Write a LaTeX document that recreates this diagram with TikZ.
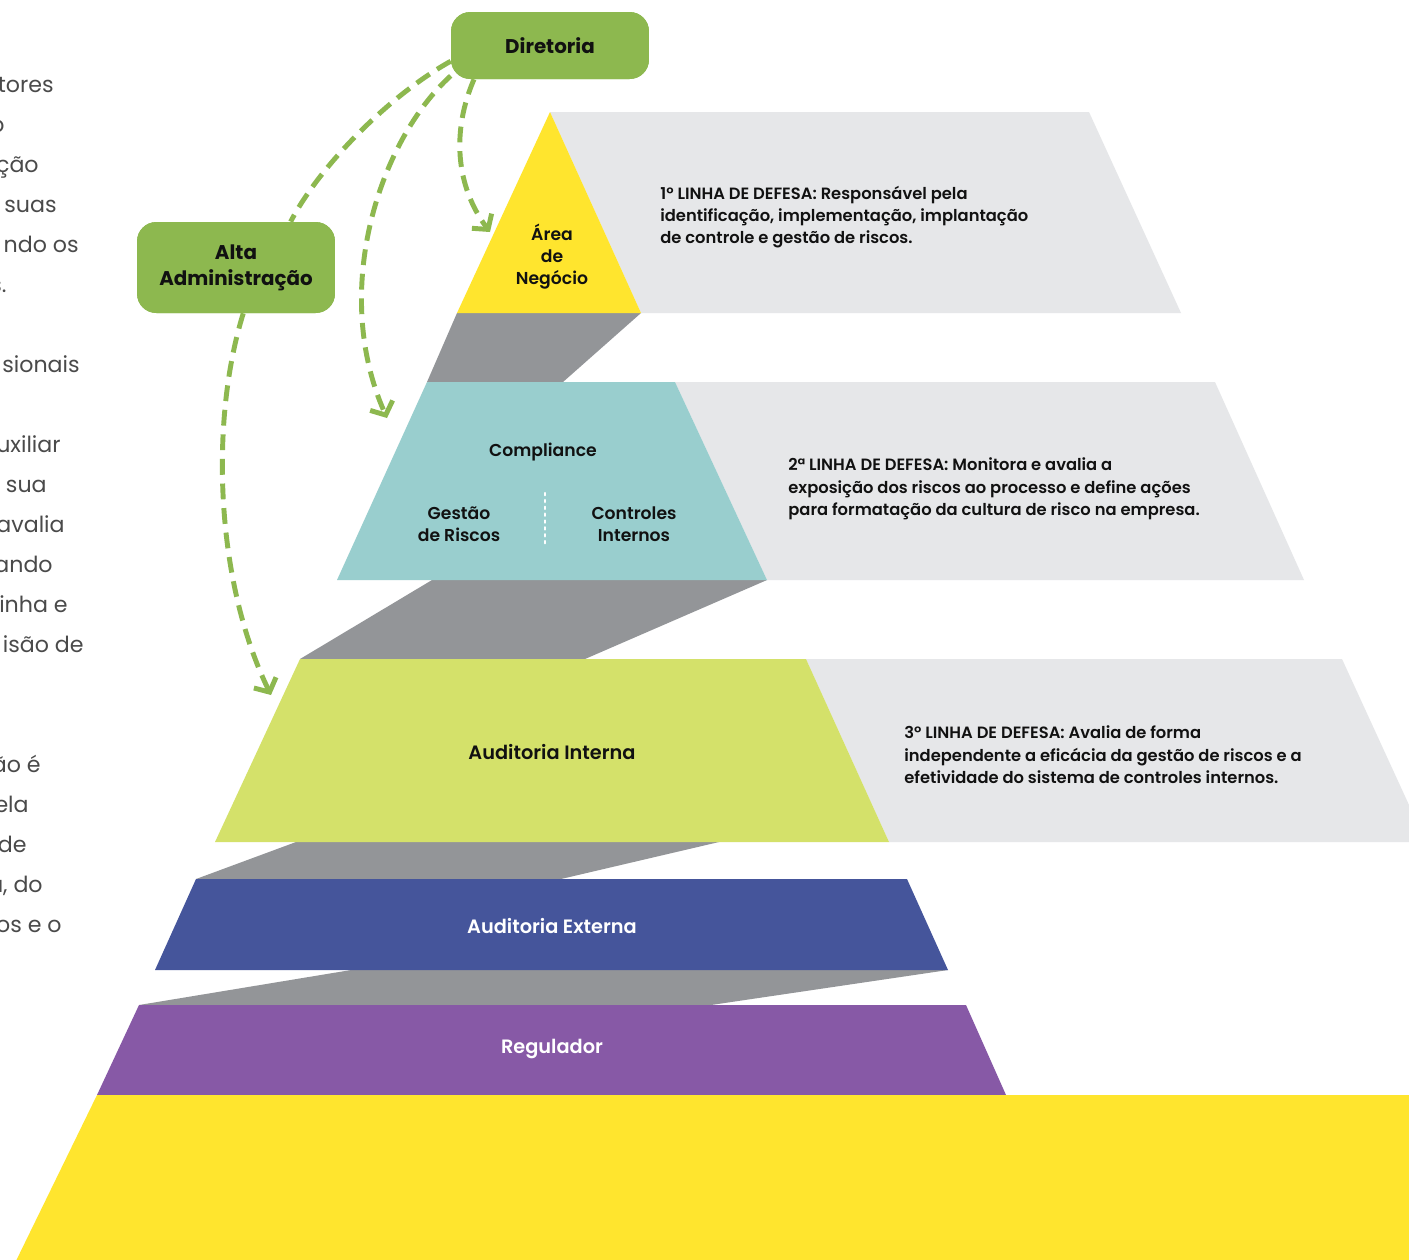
\documentclass[tikz,border=0pt]{standalone}
\usepackage{fontspec}
\setmainfont{Poppins}
\newfontfamily\pmed{Poppins Medium}
\newfontfamily\psemi{Poppins SemiBold}
\usetikzlibrary{arrows.meta}
\definecolor{grn}{HTML}{8DB84F}
\definecolor{yel}{HTML}{FFE52E}
\definecolor{dgrey}{HTML}{939598}
\definecolor{lgrey}{HTML}{E6E7E9}
\definecolor{teal2}{HTML}{99CECE}
\definecolor{lime}{HTML}{D4E16A}
\definecolor{blu}{HTML}{45559B}
\definecolor{purp}{HTML}{8759A6}
\definecolor{ink}{HTML}{111111}
\definecolor{sidetxt}{HTML}{4A4A4A}
\begin{document}
\begin{tikzpicture}[x=0.02cm,y=-0.02cm,
  greenbox/.style={fill=grn, rounded corners=11pt, inner sep=0pt, minimum width=3.96cm, align=center, text=ink, font=\bfseries\fontsize{11.3}{14.7}\selectfont},
  dashlink/.style={draw=grn, line width=2.8pt, dash pattern=on 9pt off 5pt},
  tipped/.style={dashlink, -{Straight Barb[length=6pt, width=14pt]}},
  tierlabel/.style={align=center, text=ink, font=\psemi\fontsize{9.8}{12.5}\selectfont, inner sep=0pt},
  bigtier/.style={align=center, font=\psemi\fontsize{11}{13}\selectfont, inner sep=0pt},
  desc/.style={align=left, anchor=west, text=ink, font=\psemi\fontsize{9.3}{12.75}\selectfont, inner sep=0pt},
  side/.style={anchor=mid east, text=sidetxt, font=\fontsize{12.6}{15}\selectfont, inner sep=0pt}]
\useasboundingbox (0,0) rectangle (1409,1259);
\fill[white] (0,0) rectangle (1409,1259);

% light grey panels
\fill[lgrey] (550,112) -- (1089,112) -- (1181,313) -- (641,313) -- cycle;
\fill[lgrey] (675,382) -- (1215,382) -- (1304,580) -- (767,580) -- cycle;
\fill[lgrey] (806,659) -- (1342,659) -- (1426,842) -- (889,842) -- cycle;

% dark grey connectors
\fill[dgrey] (457,313) -- (641,313) -- (563,382) -- (427,382) -- cycle;
\fill[dgrey] (432,580) -- (767,580) -- (585,659) -- (300,659) -- cycle;
\fill[dgrey] (296,842) -- (719,842) -- (561,879) -- (196,879) -- cycle;
\fill[dgrey] (351,970) -- (948,970) -- (711,1005) -- (139,1005) -- cycle;

% tiers
\fill[yel] (550,112) -- (641,313) -- (457,313) -- cycle;
\fill[teal2] (427,382) -- (675,382) -- (767,580) -- (337,580) -- cycle;
\fill[lime] (300,659) -- (806,659) -- (889,842) -- (215,842) -- cycle;
\fill[blu] (196,879) -- (907,879) -- (948,970) -- (155,970) -- cycle;
\fill[purp] (139,1005) -- (966,1005) -- (1006,1095) -- (97,1095) -- cycle;
\fill[yel] (97,1095) -- (1420,1095) -- (1420,1265) -- (14,1265) -- cycle;

% dotted separator
\draw[white, line width=1.3pt, dash pattern=on 1.3pt off 2.6pt, line cap=round] (545,493) -- (545,547);

% tier labels
\node[tierlabel] (area) at (552,257) {Área\\de\\Negócio};
\node[tierlabel] (comp) at (543,452) {Compliance};
\node[tierlabel] (gest) at (459,524) {Gestão\\de Riscos};
\node[tierlabel] (ctrl) at (634,524) {Controles\\Internos};
\node[bigtier, text=ink] (audi) at (552,752) {Auditoria Interna};
\node[bigtier, text=white] (aude) at (552,926) {Auditoria Externa};
\node[bigtier, text=white] (regu) at (552,1049) {Regulador};

% descriptions
\node[desc] (d1) at (660,217) {1º LINHA DE DEFESA: Responsável pela\\identificação, implementação, implantação\\de controle e gestão de riscos.};
\node[desc] (d2) at (788,489) {2ª LINHA DE DEFESA: Monitora e avalia a\\exposição dos riscos ao processo e define ações\\para formatação da cultura de risco na empresa.};
\node[desc] (d3) at (904,755) {3º LINHA DE DEFESA: Avalia de forma\\independente a eficácia da gestão de riscos e a\\efetividade do sistema de controles internos.};

% tip coordinates
\coordinate (tipArea) at (490,232);
\coordinate (tipComp) at (387,418);
\coordinate (tipAud) at (271,695);

% green boxes (positions)
\node[greenbox, minimum height=1.34cm] (dir) at (550,45.5) {Diretoria};
\node[greenbox, minimum height=1.82cm] (alta) at (236,267.5) {Alta\\Administração};

% connectors
\draw[dashlink] (dir.189) .. controls (390,95) and (320,165) .. (alta.40);
\draw[tipped] (dir.197) .. controls (380,140) and (330,290) .. (tipComp);
\draw[tipped] (dir.204) .. controls (452,130) and (455,185) .. (tipArea);
\draw[tipped] (alta.279) .. controls (210,420) and (215,580) .. (tipAud);

% redraw boxes on top
\node[greenbox, minimum height=1.34cm] at (dir.center) {Diretoria};
\node[greenbox, minimum height=1.82cm] at (alta.center) {Alta\\Administração};

% cut-off side text
\node[side] (s1) at (54,88) {tores};
\node[side] (s2) at (5,128) {o};
\node[side] (s3) at (39,168) {ção};
\node[side] (s4) at (57,208) {suas};
\node[side] (s5) at (79,248) {ndo os};
\node[side] (s6) at (7,288) {s.};
\node[side] (s7) at (80,368) {sionais};
\node[side] (s8) at (61,448) {uxiliar};
\node[side] (s9) at (47,488) {sua};
\node[side] (s10) at (65,528) {avalia};
\node[side] (s11) at (53,568) {ando};
\node[side] (s12) at (68,608) {inha e};
\node[side] (s13) at (84,648) {isão de};
\node[side] (s14) at (41,768) {ão é};
\node[side] (s15) at (29,808) {ela};
\node[side] (s16) at (27,848) {de};
\node[side] (s17) at (43,888) {a, do};
\node[side] (s18) at (62,928) {os e o};
\end{tikzpicture}
\end{document}
